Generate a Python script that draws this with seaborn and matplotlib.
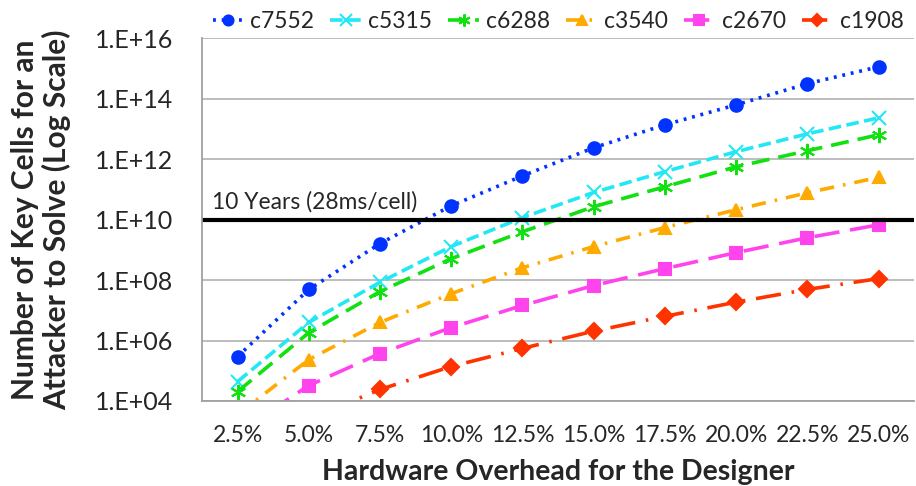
import numpy as np
import pandas as pd
import matplotlib
matplotlib.use('Agg')
import matplotlib.pyplot as plt
import seaborn as sns

# data (log10 of key cells)
categories = ['2.5%', '5.0%', '7.5%', '10.0%', '12.5%', '15.0%', '17.5%', '20.0%', '22.5%', '25.0%']
c7552 = [5.47, 7.69, 9.21, 10.46, 11.45, 12.38, 13.14, 13.80, 14.50, 15.06]
c5315 = [4.64, 6.60, 7.93, 9.11, 10.07, 10.90, 11.59, 12.25, 12.84, 13.37]
c6288 = [4.31, 6.26, 7.62, 8.71, 9.60, 10.43, 11.09, 11.75, 12.28, 12.81]
c3540 = [3.55, 5.37, 6.60, 7.55, 8.41, 9.11, 9.74, 10.33, 10.89, 11.40]
c2670 = [2.96, 4.51, 5.57, 6.43, 7.16, 7.82, 8.38, 8.91, 9.40, 9.83]
c1908 = [2.20, 3.40, 4.38, 5.14, 5.74, 6.31, 6.80, 7.27, 7.69, 8.05]
names = ['c7552', 'c5315', 'c6288', 'c3540', 'c2670', 'c1908']
series = [c7552, c5315, c6288, c3540, c2670, c1908]
threshold = 1e10

colors = ['#0033ff', '#22e8f5', '#11e011', '#ffaa00', '#ff44ee', '#ff3300']
dashes = [(0, (0.8, 1.6)), (0, (3.5, 1.5)), (0, (5, 2.5)), (0, (4, 2.5, 0.7, 2.5)),
          (0, (7, 3)), (0, (7, 3, 0.7, 3))]
markers = ['o', 'x', (6, 2, 0), '^', 's', 'D']
msizes = [9, 10, 11, 9, 9, 8]

sns.set_style('white')
plt.rcParams['font.family'] = ['Lato', 'DejaVu Sans']

fig = plt.figure(figsize=(9.16, 4.86), dpi=100)
ax = fig.add_axes([0.2205, 0.175, 0.7775, 0.746])

x = np.arange(len(categories))
for name, vals, col, ls, mk, ms in zip(names, series, colors, dashes, markers, msizes):
    sns.lineplot(x=x, y=10 ** np.array(vals), ax=ax, color=col, linestyle=ls,
                 marker=mk, markersize=ms, markeredgecolor=col, markeredgewidth=1.5,
                 linewidth=2.6, label=name, clip_on=True)

ax.axhline(threshold, color='black', linewidth=3)
ax.annotate('10 Years (28ms/cell)', xy=(0, threshold), xycoords=ax.get_yaxis_transform(),
            xytext=(7, 5), textcoords='offset points', fontsize=16.4, ha='left', va='bottom')

ax.set_yscale('log')
ax.set_ylim(1e4, 1e16)
ax.set_yticks([10.0 ** k for k in range(4, 17, 2)])
ax.set_yticklabels(['1.E+%02d' % k for k in range(4, 17, 2)], fontsize=18)
ax.yaxis.set_minor_locator(matplotlib.ticker.NullLocator())
ax.grid(axis='y', color='#b8b8b8', linewidth=1.3)

ax.set_xlim(-0.5, len(categories) - 0.5)
ax.set_xticks(x)
ax.set_xticklabels(categories, fontsize=16.5)
ax.set_xticks(np.arange(-0.5, len(categories), 1), minor=True)
ax.tick_params(axis='x', which='major', length=0, pad=17)
ax.tick_params(axis='x', which='minor', length=6, color='#a0a0a0', width=1.3, direction='out')
ax.tick_params(axis='y', length=6.5, color='#a0a0a0', width=1.3, direction='out', pad=14)

for s in ['top', 'right']:
    ax.spines[s].set_visible(False)
for s in ['left', 'bottom']:
    ax.spines[s].set_color('#a0a0a0')
    ax.spines[s].set_linewidth(1.3)

ax.set_xlabel('Hardware Overhead for the Designer', fontsize=20.5, fontweight='bold')
ax.set_ylabel('Number of Key Cells for an\nAttacker to Solve (Log Scale)', fontsize=21.5,
              fontweight='bold', linespacing=1.15)
ax.yaxis.set_label_coords(-0.183, 0.5)
ax.xaxis.set_label_coords(0.5, -0.16)

ax.legend(loc='lower center', bbox_to_anchor=(0.5, 0.985), ncol=6, frameon=False, fontsize=16.5,
          handlelength=1.35, handletextpad=0.3, columnspacing=0.7, borderaxespad=0.1,
          markerscale=0.8)

fig.savefig('out.png', dpi=100)
